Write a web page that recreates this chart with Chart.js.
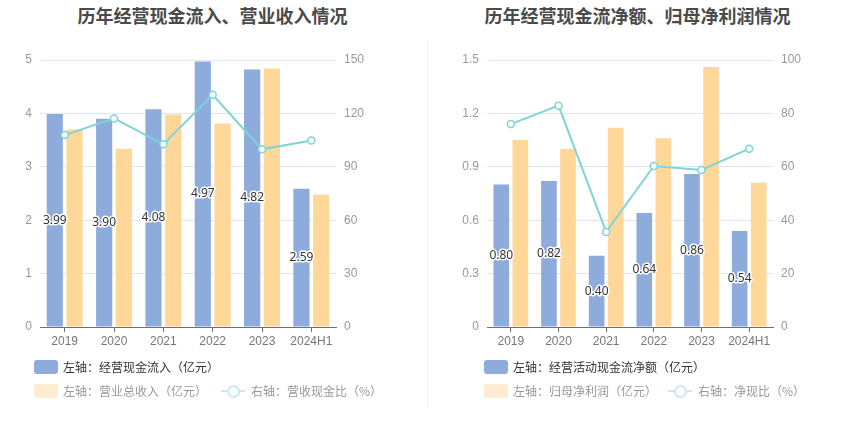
<!DOCTYPE html>
<html>
<head>
<meta charset="utf-8">
<script src="https://cdn.jsdelivr.net/npm/chart.js@4"></script>
<style>
    body { margin: 0; width: 850px; height: 437px; background: #fff; font-family: "Noto Sans CJK SC", "Noto Sans", sans-serif; position: relative; overflow: hidden; }
    .title { position: absolute; top: 2px; font-size: 18px; font-weight: bold; color: #4a4a4a; text-align: center; width: 425px; }
    .box { position: absolute; top: 40px; width: 425px; height: 320px; }
    .divider { position: absolute; left: 427px; top: 40px; width: 1px; height: 368px; background: #f0f0f0; }
    .legend { position: absolute; font-size: 12px; color: #333; line-height: 14px; white-space: nowrap; }
    .item { position: absolute; display: flex; align-items: center; }
    .sw { width: 24px; height: 14px; border-radius: 3px; margin-right: 5px; }
    .ln { width: 24px; height: 14px; margin-right: 6px; position: relative; }
    .ln::before { content: ''; position: absolute; left: 0; right: 0; top: 6px; height: 2px; background: #c7ecee; }
    .ln::after { content: ''; position: absolute; left: 6px; top: 1px; width: 9px; height: 9px; border: 2px solid #c7ecee; border-radius: 50%; background: #fff; }
    .faded { color: #999; }
</style>
</head>
<body>
<div class="title" style="left:0">历年经营现金流入、营业收入情况</div>
<div class="title" style="left:425px">历年经营现金流净额、归母净利润情况</div>
<div class="box" style="left:0"><canvas id="leftChart"></canvas></div>
<div class="box" style="left:425px"><canvas id="rightChart"></canvas></div>
<div class="divider"></div>

<div class="legend">
    <div class="item" style="left:34px;top:360px"><span class="sw" style="background:#8eacdb"></span>左轴：经营现金流入（亿元）</div>
    <div class="item faded" style="left:34px;top:384px"><span class="sw" style="background:#ffecd0"></span>左轴：营业总收入（亿元）</div>
    <div class="item faded" style="left:221px;top:384px"><span class="ln"></span>右轴：营收现金比（%）</div>
    <div class="item" style="left:484px;top:360px"><span class="sw" style="background:#8eacdb"></span>左轴：经营活动现金流净额（亿元）</div>
    <div class="item faded" style="left:484px;top:384px"><span class="sw" style="background:#ffecd0"></span>左轴：归母净利润（亿元）</div>
    <div class="item faded" style="left:668px;top:384px"><span class="ln"></span>右轴：净现比（%）</div>
</div>

<script>
const years = ['2019', '2020', '2021', '2022', '2023', '2024H1'];

// 左图
const cashInflow = [3.99, 3.90, 4.08, 4.97, 4.82, 2.59];
const revenue = [3.70, 3.34, 3.98, 3.81, 4.84, 2.48];
const cashRevenueRatio = [107.8, 117.2, 102.6, 130.5, 99.8, 104.8];

// 右图
const netCashFlow = [0.80, 0.82, 0.40, 0.64, 0.86, 0.54];
const netProfit = [1.05, 1.00, 1.12, 1.06, 1.46, 0.81];
const netCashRatio = [76.0, 82.9, 35.6, 60.3, 58.8, 66.8];

const BLUE = '#8eacdb';
const ORANGE = '#ffd799';
const TEAL = '#7fd4d8';

// 柱子中间的数值标签
const barLabels = {
    id: 'barLabels',
    afterDatasetsDraw(chart) {
        const ctx = chart.ctx;
        const meta = chart.getDatasetMeta(1);
        ctx.save();
        ctx.font = '12px "Noto Sans", "DejaVu Sans", sans-serif';
        ctx.textAlign = 'center';
        ctx.textBaseline = 'middle';
        ctx.lineJoin = 'round';
        meta.data.forEach((bar, i) => {
            const v = chart.data.datasets[1].data[i];
            const y = (bar.y + bar.base) / 2;
            ctx.lineWidth = 3;
            ctx.strokeStyle = '#fff';
            ctx.strokeText(v.toFixed(2), bar.x, y);
            ctx.fillStyle = '#333';
            ctx.fillText(v.toFixed(2), bar.x, y);
        });
        ctx.restore();
    }
};

function makeChart(id, blueLabel, blueData, orangeLabel, orangeData, lineLabel, lineData, leftMax, leftStep, rightMax, rightStep, leftW, rightW, decimals) {
    const ctx = document.getElementById(id).getContext('2d');
    return new Chart(ctx, {
        data: {
            labels: years,
            datasets: [
                {
                    type: 'line',
                    label: lineLabel,
                    data: lineData,
                    yAxisID: 'y1',
                    borderColor: TEAL,
                    borderWidth: 2,
                    pointRadius: 3.5,
                    pointBorderWidth: 1.5,
                    pointBackgroundColor: '#fff',
                    pointBorderColor: TEAL,
                    tension: 0,
                    order: 0,
                },
                {
                    type: 'bar',
                    label: blueLabel,
                    data: blueData,
                    yAxisID: 'y',
                    backgroundColor: BLUE,
                    borderColor: '#fff',
                    borderWidth: 0,
                    categoryPercentage: 0.8,
                    barPercentage: 0.82,
                    order: 2,
                },
                {
                    type: 'bar',
                    label: orangeLabel,
                    data: orangeData,
                    yAxisID: 'y',
                    backgroundColor: ORANGE,
                    borderWidth: 0,
                    categoryPercentage: 0.8,
                    barPercentage: 0.82,
                    order: 2,
                },
            ],
        },
        options: {
            responsive: false,
            animation: false,
            maintainAspectRatio: false,
            layout: { padding: { top: 20, left: 0, right: 0, bottom: 0 } },
            plugins: {
                legend: { display: false },
                tooltip: { enabled: false },
            },
            scales: {
                x: {
                    grid: { display: true, drawOnChartArea: false, drawTicks: true, tickLength: 5, offset: false, color: '#6e7079' },
                    border: { color: '#6e7079' },
                    ticks: { color: '#777', font: { size: 12 }, padding: 2, maxRotation: 0, autoSkip: false },
                    afterFit: s => { s.height = 33; },
                },
                y: {
                    position: 'left',
                    min: 0, max: leftMax,
                    ticks: {
                        stepSize: leftStep,
                        color: '#999',
                        font: { size: 12 },
                        padding: 8,
                        callback: v => v === 0 ? '0' : Number(v).toFixed(decimals),
                    },
                    grid: { color: '#e0e6f1', drawTicks: false },
                    border: { display: false },
                    afterFit: s => { s.width = leftW; },
                },
                y1: {
                    position: 'right',
                    min: 0, max: rightMax,
                    ticks: { stepSize: rightStep, color: '#999', font: { size: 12 }, padding: 8 },
                    grid: { display: false, drawTicks: false },
                    border: { display: false },
                    afterFit: s => { s.width = rightW; },
                },
            },
        },
        plugins: [barLabels],
    });
}

function sizeCanvas(id) {
    const c = document.getElementById(id);
    c.width = 425; c.height = 320;
    c.style.width = '425px'; c.style.height = '320px';
}
sizeCanvas('leftChart');
sizeCanvas('rightChart');

makeChart('leftChart', '经营现金流入', cashInflow, '营业总收入', revenue, '营收现金比', cashRevenueRatio, 5, 1, 150, 30, 40, 89, 0);
makeChart('rightChart', '经营活动现金流净额', netCashFlow, '归母净利润', netProfit, '净现比', netCashRatio, 1.5, 0.3, 100, 20, 62, 77, 1);
</script>
</body>
</html>
